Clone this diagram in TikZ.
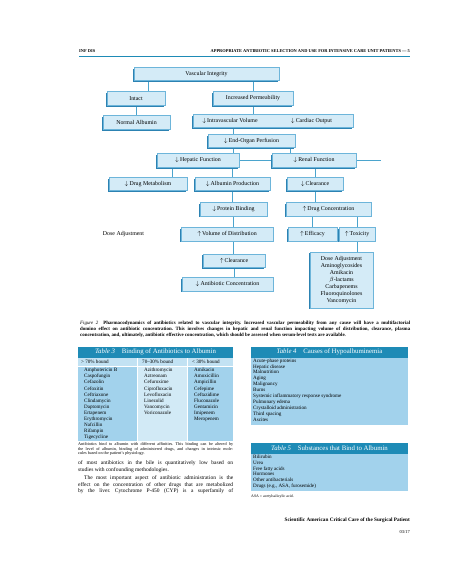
\documentclass[tikz,border=0pt]{standalone}
\usepackage{fontspec}
\setmainfont{Liberation Serif}
\usepackage{tikz}
\usetikzlibrary{shadows,backgrounds}

\definecolor{boxfill}{HTML}{D4EBF7}
\definecolor{boxline}{HTML}{6DB5DA}
\definecolor{boxshade}{HTML}{2C82B2}
\definecolor{linkcol}{HTML}{4BA4CD}
\definecolor{tabhead}{HTML}{1E8BB6}
\definecolor{tabsub}{HTML}{C2E2F3}
\definecolor{tabmid}{HTML}{A2D2EC}
\definecolor{tablight}{HTML}{D2EAF6}

\newcommand{\headfont}{\fontsize{4.4}{5}\selectfont\bfseries}
\newcommand{\boxfont}{\fontsize{5.9}{6.95}\selectfont}
\newcommand{\tabtitlefont}{\fontsize{6.8}{7.5}\selectfont}
\newcommand{\tabfont}{\fontsize{5.1}{6.1}\selectfont}
\newcommand{\notefont}{\fontsize{3.9}{4.6}\selectfont}
\newcommand{\dn}{$\downarrow$\,}
\newcommand{\upa}{$\uparrow$\,}

\tikzset{
  flowbox/.style={draw=boxline, fill=boxfill, line width=0.5pt,
    minimum height=13.5pt, inner sep=1pt, font=\boxfont,
    drop shadow={shadow xshift=-1.4pt, shadow yshift=-1.4pt,
      fill=boxshade, opacity=1}},
  link/.style={draw=linkcol, line width=0.9pt},
  tabtitle/.style={text=white, font=\tabtitlefont, inner sep=0},
  tabitems/.style={anchor=north west, align=left, font=\tabfont, inner sep=0}
}

\begin{document}
\frenchspacing
\begin{tikzpicture}[x=1pt, y=-1pt]
  \useasboundingbox (0,0) rectangle (468,585);

  % running head
  \node[anchor=base west, font=\headfont, inner sep=0] (headl) at (79, 53) {INF DIS};
  \node[anchor=base east, font=\headfont, inner sep=0] (headr) at (410, 53)
    {APPROPRIATE ANTIBIOTIC SELECTION AND USE FOR INTENSIVE CARE UNIT PATIENTS --- 5};
  \draw[tabhead, line width=1pt] (79, 56.5) -- (410, 56.5);

  % flow chart
  \node[flowbox, minimum width=145pt] (vasc) at (206.5, 74) {Vascular Integrity};

  \node[flowbox, minimum width=58pt] (intact) at (136, 98.5) {Intact};
  \node[flowbox, minimum width=80pt] (perm) at (253, 98.5) {Increased Permeability};

  \node[flowbox, minimum width=67pt] (albumin) at (136.5, 122.5) {Normal Albumin};
  \node[flowbox, minimum width=160pt] (volume) at (273, 121) {};
  \node[font=\boxfont] (ivv) at (230, 121) {\dn Intravascular Volume};
  \node[font=\boxfont] (cardiac) at (311.5, 121) {\dn Cardiac Output};

  \node[flowbox, minimum width=87pt] (perfusion) at (251.5, 141) {\dn End-Organ Perfusion};

  \node[flowbox, minimum width=82pt] (hepatic) at (198, 160.5) {\dn Hepatic Function};
  \node[flowbox, minimum width=84pt] (renal) at (314, 160.5) {\dn Renal Function};
  \coordinate (renalend) at (381, 160.5);

  \node[flowbox, minimum width=78pt] (metab) at (148, 184) {\dn Drug Metabolism};
  \node[flowbox, minimum width=75pt] (albprod) at (232.5, 184) {\dn Albumin Production};
  \node[flowbox, minimum width=56pt] (clear1) at (315, 184) {\dn Clearance};

  \node[flowbox, minimum width=67pt] (binding) at (233.5, 209) {\dn Protein Binding};
  \node[flowbox, minimum width=85pt] (drugconc) at (328.5, 209) {\upa Drug Concentration};

  \node[font=\boxfont] (dosetext) at (123.5, 234) {Dose Adjustment};
  \node[flowbox, minimum width=92pt] (vd) at (227, 234) {\upa Volume of Distribution};
  \node[flowbox, minimum width=49pt] (efficacy) at (312.5, 234) {\upa Efficacy};
  \node[flowbox, minimum width=36pt] (toxicity) at (357, 234) {\upa Toxicity};

  \node[flowbox, minimum width=62pt] (clear2) at (234, 260.5) {\upa Clearance};
  \node[flowbox, minimum width=91pt] (abconc) at (227.5, 284) {\dn Antibiotic Concentration};

  \node[flowbox, minimum width=63pt, minimum height=56pt, align=center] (doseadj) at (341.5, 280)
    {Dose Adjustment\\Aminoglycosides\\Amikacin\\$\beta$-lactams\\Carbapenems\\Fluoroquinolones\\Vancomycin};

  \begin{scope}[on background layer]
    \draw[link]
      ([xshift=12pt]intact.north) -- ([xshift=12pt]intact.north |- vasc.south)
      (perm.north) -- (perm.north |- vasc.south)
      (intact.south) -- (intact.south |- albumin.north)
      (perm.south) -- (perm.south |- volume.north)
      ([xshift=-18.5pt]perfusion.north) -- ([xshift=-18.5pt]perfusion.north |- volume.south)
      ([xshift=-18.5pt]perfusion.south) -- ([xshift=-18.5pt]perfusion.south |- hepatic.north)
      ([xshift=38.5pt]perfusion.south) -- ([xshift=38.5pt]perfusion.south |- renal.north)
      (hepatic.east) -- (renal.west)
      (renal.east) -- (renalend)
      ([xshift=24pt]metab.north) -- ([xshift=24pt]metab.north |- hepatic.south)
      (albprod.north) -- (albprod.north |- hepatic.south)
      (clear1.north) -- (clear1.north |- renal.south)
      (albprod.south) -- (albprod.south |- binding.north)
      (binding.south) -- (binding.south |- vd.north)
      (binding.south |- vd.south) -- (binding.south |- clear2.north)
      (clear2.south) -- (clear2.south |- abconc.north)
      (clear1.south) -- (clear1.south |- drugconc.north)
      (efficacy.north) -- (efficacy.north |- drugconc.south)
      (toxicity.north) -- (toxicity.north |- drugconc.south)
      (toxicity.south) -- (toxicity.south |- doseadj.north);
  \end{scope}

  % caption
  \node[anchor=north west, inner sep=0, text width=330pt, align=justify,
        font=\fontsize{4.9}{5.6}\selectfont\bfseries] (caption) at (80, 321.3)
    {\textmd{\textit{Figure 2}}\quad Pharmacodynamics of antibiotics related to vascular integrity. Increased vascular permeability from any cause will have a multifactorial\linebreak
     domino effect on antibiotic concentration. This involves changes in hepatic and renal function impacting volume of distribution, clearance, plasma\linebreak
     concentration, and, ultimately, antibiotic effective concentration, which should be assessed when serum-level tests are available.};

  % Table 3
  \fill[tabhead] (78, 346.5) rectangle (233, 357.5);
  \node[tabtitle] (t3title) at (155.5, 352) {\textit{Table 3}\quad Binding of Antibiotics to Albumin};
  \fill[tabsub] (78, 358.3) rectangle (137, 366);
  \fill[tabsub] (137.8, 358.3) rectangle (187.2, 366);
  \fill[tabsub] (188, 358.3) rectangle (233, 366);
  \fill[tabmid] (78, 366.8) rectangle (137, 440.5);
  \fill[tablight] (137.8, 366.8) rectangle (187.2, 440.5);
  \fill[tabmid] (188, 366.8) rectangle (233, 440.5);
  \node[anchor=base west, font=\tabfont, inner sep=0] (t3h1) at (81, 363.8) {> 70\% bound};
  \node[anchor=base west, font=\tabfont, inner sep=0] (t3h2) at (142, 363.8) {70--30\% bound};
  \node[anchor=base west, font=\tabfont, inner sep=0] (t3h3) at (192, 363.8) {< 30\% bound};
  \node[tabitems] (t3c1) at (84, 368)
    {Amphotericin B\\Caspofungin\\Cefazolin\\Cefoxitin\\Ceftriaxone\\Clindamycin\\Daptomycin\\Ertapenem\\Erythromycin\\Nafcillin\\Rifampin\\Tigecycline};
  \node[tabitems] (t3c2) at (144, 368)
    {Azithromycin\\Aztreonam\\Cefuroxime\\Ciprofloxacin\\Levofloxacin\\Linezolid\\Vancomycin\\Voriconazole};
  \node[tabitems] (t3c3) at (194, 368)
    {Amikacin\\Amoxicillin\\Ampicillin\\Cefepime\\Ceftazidime\\Fluconazole\\Gentamicin\\Imipenem\\Meropenem};
  \node[anchor=north west, inner sep=0, text width=155pt, align=justify,
        font=\fontsize{4.2}{4.7}\selectfont] (t3note) at (78, 442.3)
    {Antibiotics bind to albumin with different affinities. This binding can be altered by\linebreak
     the level of albumin, binding of administered drugs, and changes in intrinsic mole-\linebreak
     cules based on the patient's physiology.};

  % body text
  \node[anchor=north west, inner sep=0, text width=155pt, align=justify,
        font=\fontsize{5.5}{6.5}\selectfont] (bodytext) at (78, 460.5)
    {of most antibiotics in the bile is quantitatively low based on\linebreak
     studies with confounding methodologies.\par\vspace{2.4pt}
     \hspace*{6pt}The most important aspect of antibiotic administration is the\linebreak
     effect on the concentration of other drugs that are metabolized\linebreak
     {\parfillskip=0pt by the liver. Cytochrome P-450 (CYP) is a superfamily of\par}};

  % Table 4
  \fill[tabhead] (251, 346.5) rectangle (408, 357.5);
  \node[tabtitle] (t4title) at (329.5, 352) {\textit{Table 4}\quad Causes of Hypoalbuminemia};
  \fill[tabmid] (251, 358.3) rectangle (408, 425);
  \node[tabitems, font=\fontsize{5.1}{5.9}\selectfont] (t4list) at (253, 358.4)
    {Acute-phase proteins\\Hepatic disease\\Malnutrition\\Aging\\Malignancy\\Burns\\Systemic inflammatory response syndrome\\Pulmonary edema\\Crystalloid administration\\Third spacing\\Ascites};

  % Table 5
  \fill[tabhead] (251, 443) rectangle (408, 453.5);
  \node[tabtitle] (t5title) at (329.5, 448.3) {\textit{Table 5}\quad Substances that Bind to Albumin};
  \fill[tabmid] (251, 454.3) rectangle (408, 491);
  \node[tabitems, font=\fontsize{5.1}{5.8}\selectfont] (t5list) at (253, 454.8)
    {Bilirubin\\Urea\\Free fatty acids\\Hormones\\Other antibacterials\\Drugs (e.g., ASA, furosemide)};
  \node[anchor=base west, inner sep=0, font=\notefont] (t5note) at (251, 497.5) {ASA = acetylsalicylic acid.};

  % foot
  \node[anchor=base east, inner sep=0, font=\fontsize{5.2}{6}\selectfont\bfseries] (foot) at (410, 521.5)
    {Scientific American Critical Care of the Surgical Patient};
  \node[anchor=base east, inner sep=0, font=\fontsize{4.5}{5}\selectfont] (date) at (410, 533.5) {03/17};
\end{tikzpicture}
\end{document}
